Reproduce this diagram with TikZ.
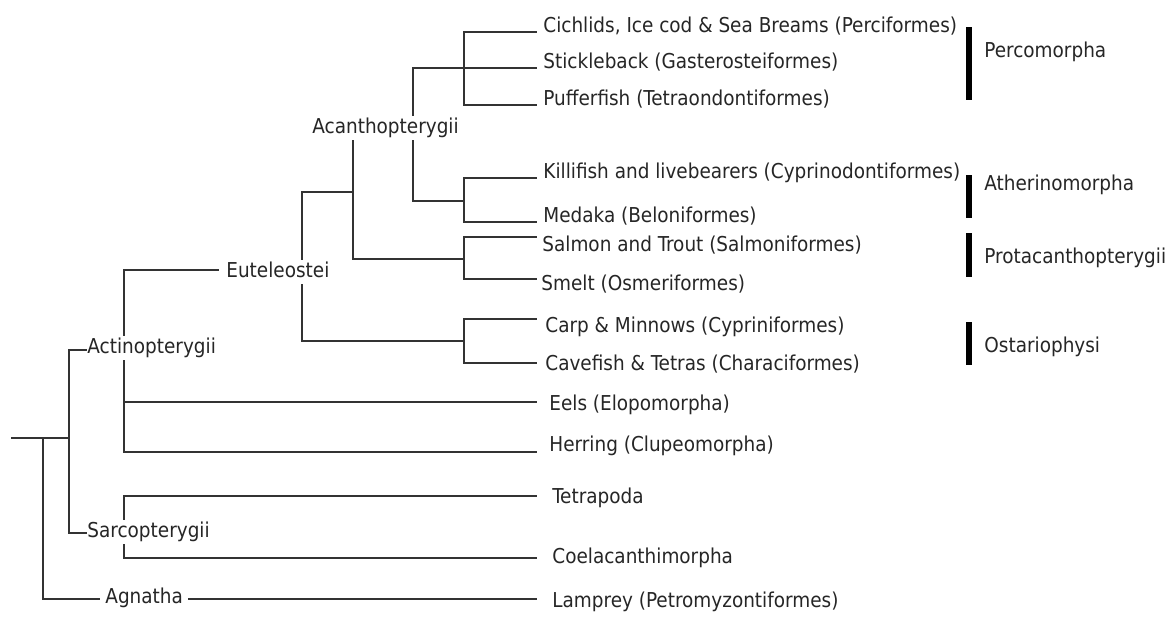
\documentclass[tikz,border=0pt]{standalone}
\usepackage{fontspec}
\setmainfont{DejaVu Sans Condensed}
\usetikzlibrary{positioning,backgrounds}
\tikzset{%
taxon/.style={anchor=base west, inner sep=0pt, text=black!85, font=\fontsize{10.25pt}{12pt}\selectfont},
clade/.style={taxon, fill=white, inner xsep=2pt, inner ysep=1pt, text height=0.75em, text depth=0.24em},
branch/.style={draw=black!80, line width=0.75pt},
grpbar/.style={draw=black, line width=3pt}
}

\begin{document}
\begin{tikzpicture}[x=0.5pt, y=-0.5pt]
	\useasboundingbox (0,0) rectangle (1170,616);
	% branching points
	\coordinate (root) at (11,438);
	\coordinate (base) at (43,438);
	\coordinate (bony) at (69,438);
	\coordinate (actj) at (124,350);
	\coordinate (sarj) at (124,533);
	\coordinate (eutj) at (302,270);
	\coordinate (euaj) at (353,192);
	\coordinate (acaj) at (413,127);
	\coordinate (pcoj) at (464,68);
	\coordinate (athj) at (464,201);
	\coordinate (proj) at (464,259);
	\coordinate (ostj) at (464,341);
	% branch tips
	\coordinate (t-cich) at (537,32);
	\coordinate (t-stic) at (537,68);
	\coordinate (t-puff) at (537,105);
	\coordinate (t-kill) at (537,178);
	\coordinate (t-meda) at (537,222);
	\coordinate (t-salm) at (537,237);
	\coordinate (t-smel) at (537,279);
	\coordinate (t-carp) at (537,319);
	\coordinate (t-cave) at (537,363);
	\coordinate (t-eels) at (537,402);
	\coordinate (t-herr) at (537,452);
	\coordinate (t-tetr) at (537,496);
	\coordinate (t-coel) at (537,558);
	\coordinate (t-lamp) at (537,599);

	% leaves
	\node[taxon] (cich) at (543,32) {Cichlids, Ice cod \& Sea Breams (Perciformes)};
	\node[taxon] (stic) at (543,68) {Stickleback (Gasterosteiformes)};
	\node[taxon] (puff) at (543,105) {Pufferfish (Tetraondontiformes)};
	\node[taxon] (kill) at (543,178) {Killifish and livebearers (Cyprinodontiformes)};
	\node[taxon] (meda) at (543,222) {Medaka (Beloniformes)};
	\node[taxon] (salm) at (542,251) {Salmon and Trout (Salmoniformes)};
	\node[taxon] (smel) at (541,290) {Smelt (Osmeriformes)};
	\node[taxon] (carp) at (545,332) {Carp \& Minnows (Cypriniformes)};
	\node[taxon] (cave) at (545,370) {Cavefish \& Tetras (Characiformes)};
	\node[taxon] (eels) at (549,410) {Eels (Elopomorpha)};
	\node[taxon] (herr) at (549,451) {Herring (Clupeomorpha)};
	\node[taxon] (tetr) at (552,503) {Tetrapoda};
	\node[taxon] (coel) at (552,563) {Coelacanthimorpha};
	\node[taxon] (lamp) at (552,607) {Lamprey (Petromyzontiformes)};

	% clades
	\node[clade, inner xsep=0pt] (actino) at (87,353) {Actinopterygii};
	\node[clade, inner xsep=0pt] (sarco) at (87,537) {Sarcopterygii};
	\node[clade, inner xsep=2.5pt] (agna) at (100,603) {Agnatha};
	\node[clade, inner xsep=3.5pt] (eutel) at (219,277) {Euteleostei};
	\node[clade] (acanth) at (308,133) {Acanthopterygii};

	% groups on the right
	\node[taxon] (perco) at (984,57) {Percomorpha};
	\node[taxon] (ather) at (984,190) {Atherinomorpha};
	\node[taxon] (prota) at (984,263) {Protacanthopterygii};
	\node[taxon] (ostar) at (984,352) {Ostariophysi};
	\draw[grpbar] (969,27) -- (969,100);
	\draw[grpbar] (969,175) -- (969,218);
	\draw[grpbar] (969,233) -- (969,277);
	\draw[grpbar] (969,322) -- (969,365);

	\begin{scope}[on background layer]
		\draw[branch] (root) -- (bony);
		\draw[branch] (base) |- (t-lamp);
		\draw[branch] (bony) |- (actj);
		\draw[branch] (bony) |- (sarj);
		\draw[branch] (actj) |- (eutj);
		\draw[branch] (actj) |- (t-eels);
		\draw[branch] (actj) |- (t-herr);
		\draw[branch] (sarj) |- (t-tetr);
		\draw[branch] (sarj) |- (t-coel);
		\draw[branch] (eutj) |- (euaj);
		\draw[branch] (eutj) |- (ostj);
		\draw[branch] (euaj) |- (acaj);
		\draw[branch] (euaj) |- (proj);
		\draw[branch] (acaj) |- (pcoj);
		\draw[branch] (acaj) |- (athj);
		\draw[branch] (pcoj) |- (t-cich);
		\draw[branch] (pcoj) -- (t-stic);
		\draw[branch] (pcoj) |- (t-puff);
		\draw[branch] (athj) |- (t-kill);
		\draw[branch] (athj) |- (t-meda);
		\draw[branch] (proj) |- (t-salm);
		\draw[branch] (proj) |- (t-smel);
		\draw[branch] (ostj) |- (t-carp);
		\draw[branch] (ostj) |- (t-cave);
	\end{scope}
\end{tikzpicture}
\end{document}
